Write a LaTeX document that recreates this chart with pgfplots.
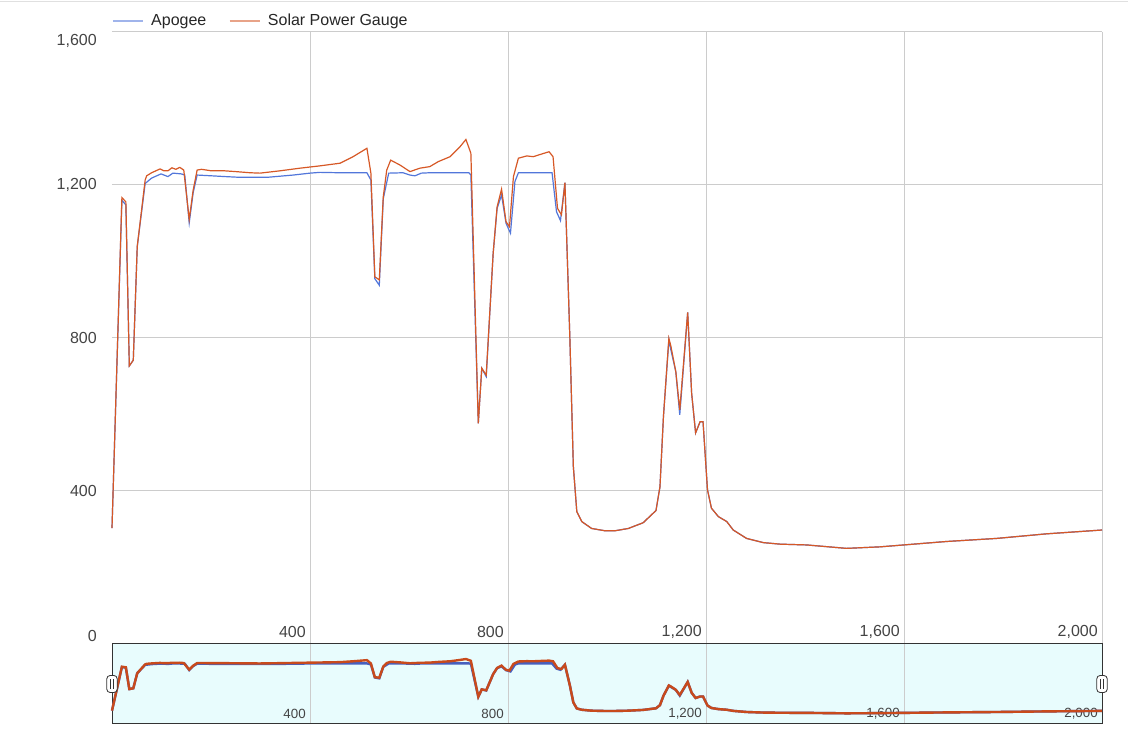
\documentclass[border=0pt]{standalone}
\usepackage{pgfplots}
\pgfplotsset{compat=1.18}
\usepackage{pgfplotstable}
\usepackage{fontspec}
\setmainfont{Liberation Sans}
\definecolor{apogee}{RGB}{82,118,218}
\definecolor{solar}{RGB}{214,88,38}
\definecolor{apogeesel}{RGB}{70,95,190}
\definecolor{solarsel}{RGB}{200,74,28}
\definecolor{gridc}{RGB}{204,204,204}
\definecolor{txt}{RGB}{68,68,68}
\definecolor{selbg}{RGB}{232,252,253}

\pgfplotstableread{
x y
0 303
20 1167
28 1156
35 727
43 742
51 1039
67 1213
70 1224
80 1232
97 1242
105 1237
113 1237
121 1245
129 1241
137 1246
145 1239
156 1110
164 1187
172 1239
181 1241
201 1237
228 1237
250 1235
279 1232
299 1231
339 1237
380 1244
420 1250
461 1257
487 1274
515 1296
523 1231
531 960
540 952
548 1169
555 1239
563 1265
582 1252
602 1235
622 1244
642 1248
659 1261
683 1274
703 1300
715 1319
725 1283
740 577
747 721
756 703
770 1021
778 1143
787 1189
796 1104
803 1091
811 1222
821 1270
838 1276
851 1274
868 1281
883 1287
891 1274
900 1139
908 1122
915 1206
925 799
932 464
939 346
949 320
969 302
996 296
1016 296
1043 302
1073 317
1099 349
1107 411
1114 594
1125 799
1129 779
1139 712
1147 612
1163 867
1171 655
1179 552
1188 581
1194 581
1203 403
1211 355
1225 333
1242 320
1255 298
1282 276
1316 265
1350 261
1403 259
1484 250
1552 254
1619 261
1686 268
1787 276
1888 288
2000 298
}\solar

\pgfplotstableread{
x y
0 303
20 1160
28 1148
35 727
43 742
51 1039
67 1204
80 1218
99 1229
113 1222
123 1231
140 1229
147 1226
156 1101
164 1180
172 1226
201 1224
228 1222
259 1220
313 1220
366 1226
400 1231
420 1233
461 1232
515 1232
523 1213
531 955
540 938
548 1164
559 1231
588 1232
602 1226
612 1224
625 1231
642 1232
721 1232
725 1226
740 577
747 721
756 699
770 1021
778 1139
787 1174
796 1100
805 1074
814 1209
821 1232
889 1232
898 1130
906 1107
915 1206
925 799
932 464
939 346
949 320
969 302
996 296
1016 296
1043 302
1073 317
1099 349
1107 411
1114 594
1125 795
1129 769
1139 712
1147 599
1163 867
1171 655
1179 552
1188 581
1194 581
1203 403
1211 355
1225 333
1242 320
1255 298
1282 276
1316 265
1350 261
1403 259
1484 250
1552 254
1619 261
1686 268
1787 276
1888 288
2000 298
}\apogeedata

\begin{document}
\begin{tikzpicture}
\path[use as bounding box] (0,0) rectangle (846pt,561.75pt);
\draw[black!12, line width=1.2pt] (0,560.6pt) -- (846pt,560.6pt);

\begin{axis}[
  at={(84pt,78.75pt)}, anchor=south west,
  scale only axis, width=742.5pt, height=459pt,
  xmin=0, xmax=2000, ymin=0, ymax=1600,
  xtick={400,800,1200,1600,2000},
  ytick={400,800,1200},
  extra y ticks={1600},
  extra y tick style={grid=major, yticklabel style={yshift=-6.75pt}},
  grid=major, major grid style={gridc, line width=0.75pt},
  axis line style={draw=none}, tick style={draw=none},
  /pgf/number format/assume math mode=true,
  /pgf/number format/1000 sep={,},
  ticklabel style={font=\fontsize{12}{14}\selectfont, text=txt, inner sep=0pt},
  xticklabel style={anchor=east, xshift=-3pt, yshift=9pt},
  yticklabel style={anchor=east, xshift=-11.25pt},
  clip=false,
  legend columns=2,
  legend style={at={(0,1)}, anchor=west, yshift=8.25pt, draw=none, fill=none,
    inner sep=0pt, font=\fontsize{12}{14}\selectfont, text=black!85,
    /tikz/every even column/.append style={column sep=15pt}},
  legend image code/.code={\draw[#1, line width=1pt, opacity=0.55] (0pt,0pt) -- (22.5pt,0pt); \path (26.25pt,0pt);},
]
\addplot[apogee, line width=0.9pt] table[x=x, y=y] {\apogeedata};
\addplot[solar, line width=0.9pt] table[x=x, y=y] {\solar};
\legend{Apogee, Solar Power Gauge}
\node[anchor=east, inner sep=0pt, font=\fontsize{12}{14}\selectfont, text=txt, xshift=-11.25pt, yshift=6pt] at (rel axis cs:0,0) {0};
\end{axis}

\begin{axis}[
  at={(84pt,18.75pt)}, anchor=south west,
  scale only axis, width=742.5pt, height=60pt,
  xmin=0, xmax=2000, ymin=40, ymax=1614,
  xtick={400,800,1200,1600,2000}, ytick=\empty,
  xmajorgrids, major grid style={gridc, line width=0.75pt},
  axis background/.style={fill=selbg},
  axis line style={draw=black!80, line width=0.75pt}, tick style={draw=none},
  /pgf/number format/assume math mode=true,
  /pgf/number format/1000 sep={,},
  ticklabel style={font=\fontsize{10}{12}\selectfont, text=txt, inner sep=0pt},
  xticklabel style={anchor=east, xshift=-3pt, yshift=7.5pt},
  clip=false,
]
\addplot[apogeesel, line width=1.8pt] table[x=x, y=y] {\apogeedata};
\addplot[solarsel, line width=1.8pt] table[x=x, y=y] {\solar};
\draw[black!80, fill=white, rounded corners=2.5pt, line width=0.6pt]
  ([xshift=-3.9pt,yshift=-6.4pt]rel axis cs:0,0.5) rectangle ([xshift=3.9pt,yshift=6.4pt]rel axis cs:0,0.5);
\draw[black!80, line width=0.5pt] ([xshift=-0.9pt,yshift=-3.5pt]rel axis cs:0,0.5) -- ([xshift=-0.9pt,yshift=3.5pt]rel axis cs:0,0.5);
\draw[black!80, line width=0.5pt] ([xshift=0.9pt,yshift=-3.5pt]rel axis cs:0,0.5) -- ([xshift=0.9pt,yshift=3.5pt]rel axis cs:0,0.5);
\draw[black!80, fill=white, rounded corners=2.5pt, line width=0.6pt]
  ([xshift=-3.9pt,yshift=-6.4pt]rel axis cs:1,0.5) rectangle ([xshift=3.9pt,yshift=6.4pt]rel axis cs:1,0.5);
\draw[black!80, line width=0.5pt] ([xshift=-0.9pt,yshift=-3.5pt]rel axis cs:1,0.5) -- ([xshift=-0.9pt,yshift=3.5pt]rel axis cs:1,0.5);
\draw[black!80, line width=0.5pt] ([xshift=0.9pt,yshift=-3.5pt]rel axis cs:1,0.5) -- ([xshift=0.9pt,yshift=3.5pt]rel axis cs:1,0.5);
\end{axis}
\end{tikzpicture}
\end{document}
